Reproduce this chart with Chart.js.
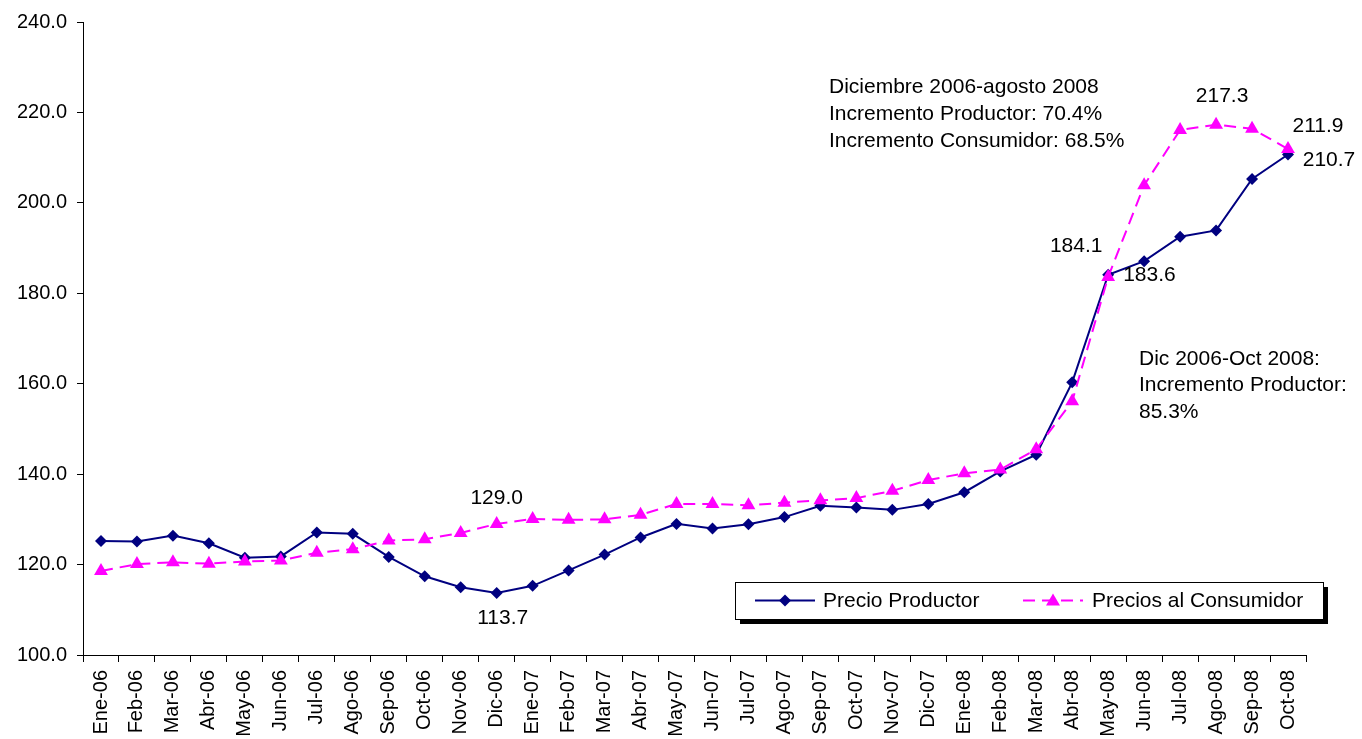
<!DOCTYPE html>
<html>
<head>
<meta charset="utf-8">
<script src="https://cdn.jsdelivr.net/npm/chart.js@4/dist/chart.umd.min.js"></script>
<style>
  html, body { margin: 0; padding: 0; background: #ffffff; }
  #wrap { width: 1362px; height: 739px; }
</style>
</head>
<body>
<div id="wrap"><canvas id="c" width="1362" height="739"></canvas></div>
<script>
const months = ["Ene-06","Feb-06","Mar-06","Abr-06","May-06","Jun-06","Jul-06","Ago-06","Sep-06","Oct-06","Nov-06","Dic-06",
                "Ene-07","Feb-07","Mar-07","Abr-07","May-07","Jun-07","Jul-07","Ago-07","Sep-07","Oct-07","Nov-07","Dic-07",
                "Ene-08","Feb-08","Mar-08","Abr-08","May-08","Jun-08","Jul-08","Ago-08","Sep-08","Oct-08"];
const precioProductor = [125.2,125.1,126.4,124.7,121.5,121.8,127.1,126.8,121.7,117.4,115.0,113.7,
                         115.3,118.7,122.2,126.0,129.0,128.0,128.9,130.5,133.0,132.6,132.1,133.4,
                         136.0,140.6,144.3,160.3,184.1,187.1,192.5,193.9,205.3,210.7];
const preciosConsumidor = [118.6,120.1,120.5,120.2,120.7,120.9,122.6,123.4,125.3,125.6,127.0,129.0,
                           130.1,129.9,130.0,131.0,133.4,133.4,133.1,133.7,134.2,134.7,136.3,138.7,
                           140.2,141.0,145.5,156.1,183.6,203.9,216.1,217.3,216.4,211.9];
const yMin = 100, yMax = 240, yStep = 20;
const seriesNames = ["Precio Productor", "Precios al Consumidor"];
const note1 = ["Diciembre 2006-agosto 2008", "Incremento Productor: 70.4%", "Incremento Consumidor: 68.5%"];
const note2 = ["Dic 2006-Oct 2008:", "Incremento Productor:", "85.3%"];
// point labels: [series, index, dx, dy, align]
const pointLabels = [
  ["c", 11, 0, -26, "center"],
  ["p", 11, 6, 25, "center"],
  ["p", 28, -32, -29, "center"],
  ["c", 28, 15, -2, "left"],
  ["c", 31, 6, -28, "center"],
  ["c", 33, 30, -23, "center"],
  ["p", 33, 41, 6, "center"]
];
const labelText = (s, i) => (s === "p" ? precioProductor[i] : preciosConsumidor[i]).toFixed(1);

const NAVY = "#000080", MAG = "#FF00FF";
const FONT = "Liberation Sans, Arial, sans-serif";

const annot = {
  id: "annot",
  afterDatasetsDraw(chart) {
    const ctx = chart.ctx, xs = chart.scales.x, ys = chart.scales.y;
    ctx.save();
    ctx.fillStyle = "#000";
    ctx.font = "21px " + FONT;
    ctx.textBaseline = "middle";
    pointLabels.forEach(([s, i, dx, dy, al]) => {
      const v = s === "p" ? precioProductor[i] : preciosConsumidor[i];
      ctx.textAlign = al;
      ctx.fillText(labelText(s, i), xs.getPixelForValue(i) + dx, ys.getPixelForValue(v) + dy);
    });
    ctx.textAlign = "left";
    note1.forEach((t, k) => ctx.fillText(t, 829, 87 + k * 27));
    note2.forEach((t, k) => ctx.fillText(t, 1139, 359 + k * 26.5));

    // legend box
    const lx = 735, ly = 582, lw = 588, lh = 37;
    ctx.fillStyle = "#000";
    ctx.fillRect(lx + 5, ly + 5, lw, lh);
    ctx.fillStyle = "#fff";
    ctx.fillRect(lx, ly, lw, lh);
    ctx.strokeStyle = "#000";
    ctx.lineWidth = 1;
    ctx.strokeRect(lx + 0.5, ly + 0.5, lw, lh);
    const cy = ly + lh / 2;
    // producer sample
    ctx.strokeStyle = NAVY; ctx.lineWidth = 2;
    ctx.beginPath(); ctx.moveTo(755, cy); ctx.lineTo(815, cy); ctx.stroke();
    ctx.fillStyle = NAVY;
    ctx.beginPath();
    ctx.moveTo(785, cy - 6); ctx.lineTo(791, cy); ctx.lineTo(785, cy + 6); ctx.lineTo(779, cy); ctx.closePath(); ctx.fill();
    // consumer sample
    ctx.strokeStyle = MAG; ctx.setLineDash([12, 7]);
    ctx.beginPath(); ctx.moveTo(1023, cy); ctx.lineTo(1083, cy); ctx.stroke();
    ctx.setLineDash([]);
    ctx.fillStyle = MAG;
    ctx.beginPath();
    ctx.moveTo(1053, cy - 7); ctx.lineTo(1060, cy + 5); ctx.lineTo(1046, cy + 5); ctx.closePath(); ctx.fill();
    ctx.fillStyle = "#000";
    ctx.font = "21px " + FONT;
    ctx.fillText(seriesNames[0], 823, cy + 1);
    ctx.fillText(seriesNames[1], 1092, cy + 1);
    ctx.restore();
  }
};

new Chart(document.getElementById("c"), {
  type: "line",
  data: {
    labels: months,
    datasets: [
      {
        label: seriesNames[1],
        data: preciosConsumidor,
        borderColor: MAG,
        backgroundColor: MAG,
        borderWidth: 2,
        borderDash: [12, 7],
        pointStyle: "triangle",
        pointRadius: 8,
        pointBorderWidth: 0,
        pointBackgroundColor: MAG,
        tension: 0
      },
      {
        label: seriesNames[0],
        data: precioProductor,
        borderColor: NAVY,
        backgroundColor: NAVY,
        borderWidth: 2,
        pointStyle: "rectRot",
        pointRadius: 6,
        pointBorderWidth: 0,
        pointBackgroundColor: NAVY,
        tension: 0
      }
    ]
  },
  options: {
    responsive: false,
    animation: false,
    layout: { padding: { top: 19, right: 56, left: 0, bottom: 0 } },
    plugins: { legend: { display: false }, tooltip: { enabled: false } },
    scales: {
      x: {
        offset: true,
        grid: { offset: true, drawOnChartArea: false, drawTicks: true, tickLength: 7, color: "#000" },
        border: { color: "#000", width: 1 },
        ticks: { color: "#000", font: { family: FONT, size: 20 }, minRotation: 90, maxRotation: 90, padding: 8, autoSkip: false },
        afterFit(s) { s.height = 84; }
      },
      y: {
        min: yMin, max: yMax,
        grid: { drawOnChartArea: false, drawTicks: true, tickLength: 6, color: "#000" },
        border: { color: "#000", width: 1 },
        ticks: { stepSize: yStep, color: "#000", font: { family: FONT, size: 20 }, padding: 10,
                 callback: v => Number(v).toFixed(1) },
        afterFit(s) { s.width = 83; }
      }
    }
  },
  plugins: [annot]
});
</script>
</body>
</html>
